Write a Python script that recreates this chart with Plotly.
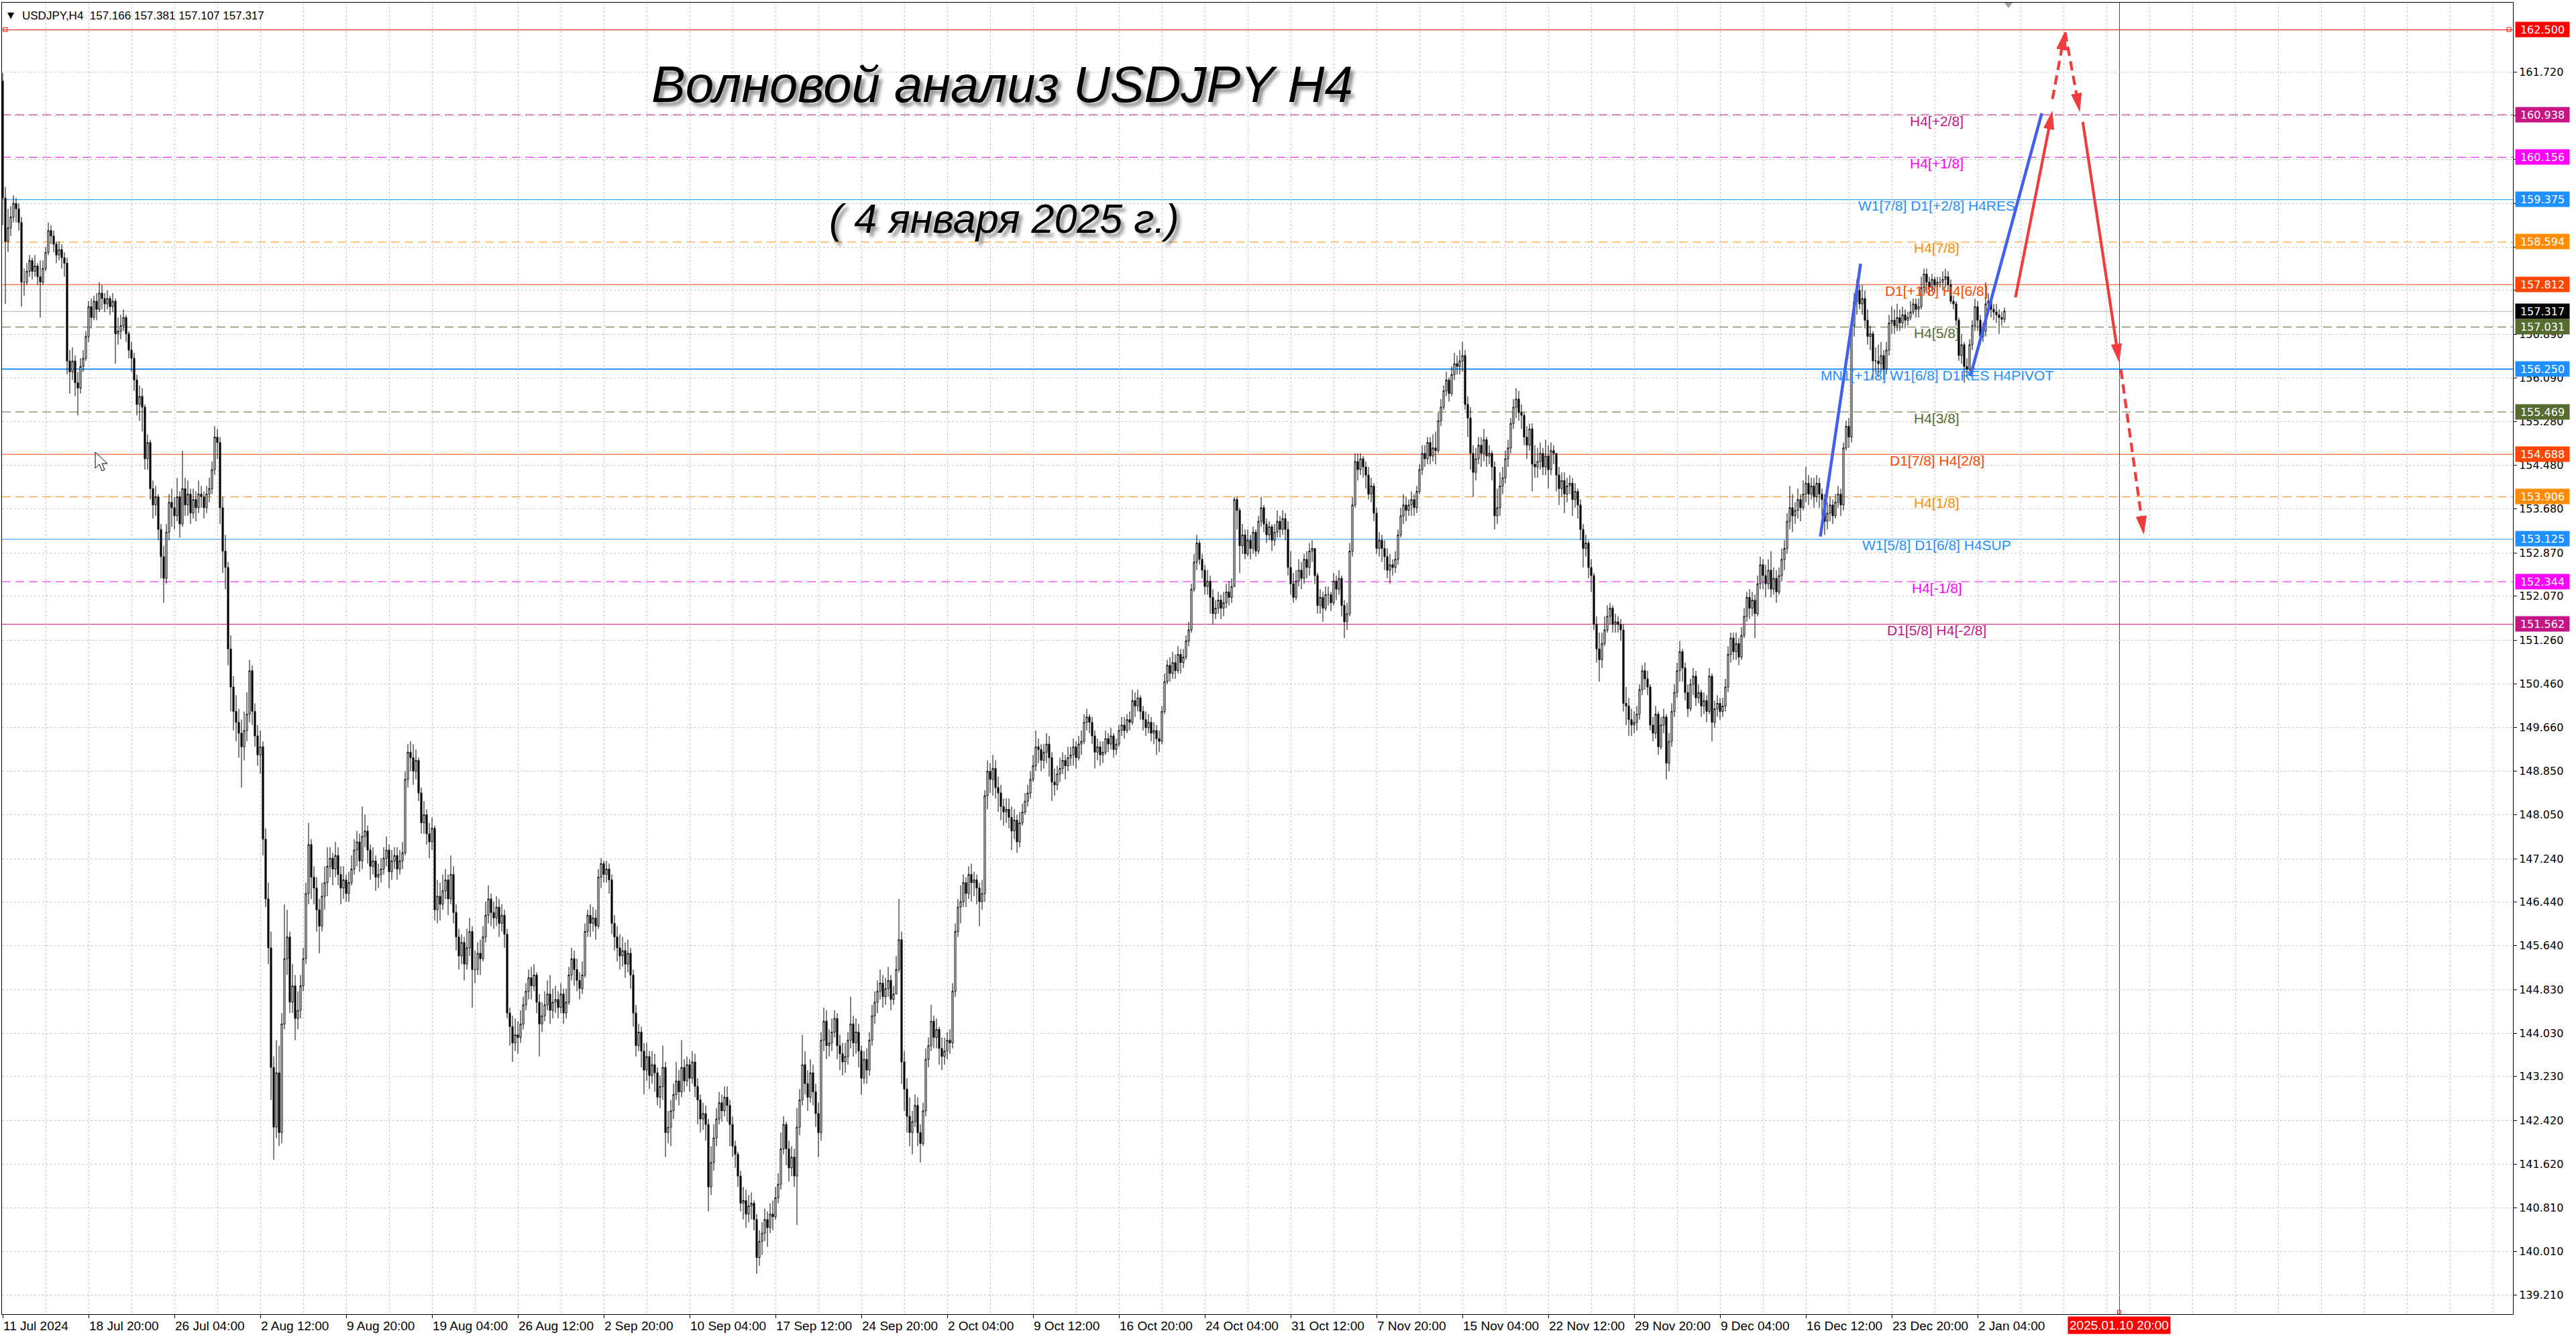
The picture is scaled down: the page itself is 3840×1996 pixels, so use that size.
import math
import plotly.graph_objects as go

# ---------------- data ----------------
first_open = 161.55

close = [
159.40, 158.60, 158.85,
159.05, 159.30, 159.20, 158.95, 157.85, 157.85,
158.05, 158.25, 158.05, 158.15, 157.95, 157.85,
158.10, 158.40, 158.80, 158.70, 158.55, 158.35,
158.45, 158.30, 158.20, 156.40, 156.20, 156.40,
156.00, 155.90, 156.30, 156.45, 156.85, 157.40,
157.20, 157.50, 157.35, 157.65, 157.55, 157.45,
157.55, 157.40, 157.50, 156.90, 156.95, 157.05,
157.20, 156.90, 156.60, 156.45, 156.05, 155.60,
155.75, 155.55, 154.60, 154.90, 154.05, 153.75,
153.90, 153.30, 152.80, 152.40, 153.25, 153.80,
153.70, 153.55, 153.90, 153.40, 154.05, 153.75,
153.95, 153.60, 153.85, 153.70, 153.95, 153.90,
153.70, 153.95, 154.05, 154.40, 155.00, 154.90,
153.70, 152.90, 152.60, 151.10, 150.40, 149.95,
149.75, 149.55, 149.30, 149.60, 149.90, 150.70,
149.95, 149.50, 149.15, 149.30, 147.60, 146.50,
145.60, 143.40, 142.30, 143.30, 142.20, 144.20,
145.40, 145.80, 144.60, 144.90, 144.30, 144.45,
144.90, 145.40, 146.60, 147.50, 146.90, 146.70,
146.30, 146.00, 146.55, 146.80, 147.10, 147.25,
147.05, 147.30, 146.95, 146.70, 146.85, 146.60,
146.80, 147.05, 147.40, 147.55, 147.20, 147.65,
147.75, 147.40, 147.10, 147.20, 146.90, 146.95,
147.05, 147.25, 147.40, 147.00, 147.20, 147.30,
147.05, 147.20, 147.35, 148.70, 149.20, 149.10,
148.85, 149.05, 148.45, 147.90, 148.05, 147.70,
147.55, 147.80, 146.30, 146.55, 146.40, 146.65,
146.85, 146.50, 146.95, 146.25, 145.80, 145.45,
145.70, 145.30, 145.60, 145.90, 145.20, 145.20,
145.50, 145.40, 145.80, 146.20, 146.50, 146.25,
146.15, 146.35, 146.05, 146.20, 145.85, 144.40,
144.15, 143.85, 144.00, 143.95, 144.20, 144.55,
144.80, 145.05, 144.90, 145.10, 144.60, 144.20,
144.35, 144.55, 144.75, 144.45, 144.60, 144.65,
144.50, 144.75, 144.40, 144.60, 145.10, 145.40,
145.20, 145.00, 144.85, 145.10, 145.90, 146.20,
146.05, 146.15, 146.00, 146.90, 147.15, 146.95,
147.05, 146.85, 146.05, 145.80, 145.60, 145.45,
145.55, 145.30, 145.50, 145.10, 144.40, 143.80,
144.05, 143.70, 143.35, 143.60, 143.25, 143.45,
143.30, 142.85, 143.05, 143.40, 142.20, 142.30,
142.60, 142.90, 143.15, 142.95, 143.40, 143.15,
143.45, 143.20, 143.50, 143.05, 142.80, 142.45,
142.55, 142.35, 141.20, 141.65, 142.10, 142.45,
142.75, 142.60, 142.85, 142.70, 142.35, 141.95,
141.80, 141.40, 140.90, 140.95, 140.70, 140.85,
140.90, 140.60, 139.90, 140.20, 140.35, 140.60,
140.45, 140.70, 140.65, 141.00, 141.25, 141.90,
142.35, 141.90, 141.55, 141.75, 141.40, 142.30,
142.80, 143.45, 143.10, 142.85, 143.30, 142.95,
142.55, 142.20, 143.90, 144.25, 143.80, 143.85,
144.05, 144.30, 143.80, 143.65, 143.50, 143.60,
143.90, 144.20, 143.85, 144.05, 143.70, 143.20,
143.55, 143.35, 143.90, 144.35, 144.60, 144.80,
144.95, 144.70, 144.85, 145.00, 144.65, 144.75,
145.20, 145.75, 143.50, 143.00, 142.50, 142.20,
142.40, 142.70, 142.20, 142.00, 142.60, 143.55,
143.80, 144.25, 143.95, 144.10, 143.75, 143.60,
143.70, 143.90, 143.85, 144.80, 145.90, 146.35,
146.45, 146.80, 146.60, 146.95, 146.80, 146.85,
146.70, 146.45, 146.60, 148.40, 148.85, 148.70,
148.90, 148.55, 148.45, 148.20, 148.10, 148.15,
148.00, 147.75, 147.95, 147.55, 147.90, 148.10,
148.30, 148.45, 148.70, 148.95, 149.30, 149.25,
149.05, 149.20, 149.35, 149.10, 148.65, 148.60,
148.80, 148.90, 149.05, 148.95, 149.10, 149.15,
149.30, 149.10, 149.35, 149.40, 149.75, 149.85,
149.75, 149.50, 149.20, 149.30, 149.15, 149.20,
149.45, 149.35, 149.50, 149.25, 149.35, 149.60,
149.70, 149.60, 149.80, 149.75, 150.15, 150.05,
150.20, 149.95, 149.80, 149.65, 149.75, 149.55,
149.60, 149.45, 149.40, 149.95, 150.50, 150.80,
150.65, 150.85, 150.70, 151.00, 150.85, 150.95,
151.25, 151.45, 152.20, 152.70, 153.05, 152.75,
152.55, 152.25, 152.35, 152.05, 151.75, 151.85,
152.00, 151.85, 151.95, 152.15, 152.05, 152.25,
153.85, 153.65, 153.00, 153.20, 152.85, 153.10,
152.95, 153.25, 152.90, 153.45, 153.70, 153.40,
153.20, 153.35, 153.10, 153.25, 153.45, 153.30,
153.50, 153.30, 152.60, 152.30, 152.05, 152.35,
152.55, 152.40, 152.75, 152.60, 152.90, 152.95,
152.45, 151.90, 152.05, 151.85, 152.10, 152.10,
151.95, 152.35, 152.20, 152.40, 151.90, 151.60,
151.75, 152.90, 153.75, 154.55, 154.40, 154.60,
154.45, 154.30, 153.95, 154.10, 153.60, 152.95,
153.10, 152.95, 152.80, 152.55, 152.65, 152.60,
152.75, 153.20, 153.55, 153.75, 153.65, 153.75,
153.85, 153.70, 154.00, 154.40, 154.70, 154.60,
154.90, 154.65, 154.80, 154.75, 155.30, 155.55,
155.85, 156.05, 155.80, 156.15, 156.35, 156.30,
156.40, 156.50, 155.60, 155.35, 154.70, 154.35,
154.60, 154.85, 154.70, 154.95, 154.65, 154.70,
154.45, 153.55, 153.70, 154.10, 154.25, 154.60,
154.80, 155.25, 155.55, 155.70, 155.45, 155.40,
155.00, 154.85, 155.15, 154.50, 154.45, 154.55,
154.70, 154.45, 154.65, 154.40, 154.75, 154.70,
154.30, 154.05, 154.20, 153.95, 154.10, 154.15,
153.85, 154.00, 153.75, 153.30, 152.95, 153.05,
152.60, 152.45, 151.55, 151.10, 150.90, 151.20,
151.45, 151.70, 151.85, 151.55, 151.60, 151.55,
151.45, 150.10, 150.05, 149.80, 149.70, 149.75,
149.90, 150.35, 150.70, 150.55, 150.40, 149.70,
149.55, 149.90, 149.30, 149.70, 149.85, 149.00,
149.40, 149.95, 150.30, 150.70, 151.05, 150.75,
150.30, 150.00, 150.45, 150.60, 150.20, 150.30,
150.05, 150.15, 149.95, 150.60, 149.75, 150.00,
150.10, 149.95, 150.05, 150.40, 151.00, 151.30,
151.05, 151.20, 150.95, 151.35, 151.70, 152.05,
151.85, 152.00, 151.75, 152.30, 152.65, 152.45,
152.30, 152.55, 152.20, 152.40, 152.15, 152.45,
152.75, 152.95, 153.45, 153.70, 153.55, 153.65,
153.85, 153.70, 153.95, 154.15, 153.95, 154.10,
153.90, 154.15, 153.95, 153.85, 153.45, 153.60,
153.75, 153.55, 153.80, 153.95, 153.75, 154.80,
155.20, 155.00, 157.05, 157.50, 157.70, 157.45,
157.55, 157.15, 156.85, 156.90, 156.40, 156.40,
156.35, 156.50, 156.25, 156.60, 157.10, 157.15,
157.05, 157.20, 157.10, 157.25, 157.15, 157.20,
157.30, 157.45, 157.35, 157.40, 157.75, 158.00,
157.85, 157.75, 157.90, 157.80, 157.85, 157.85,
157.90, 157.95, 157.80, 157.50, 157.45, 157.15,
156.50, 156.70, 156.30, 156.25, 156.70, 157.05,
157.40, 157.15, 156.85, 156.95, 157.45, 157.50,
157.35, 157.30, 157.25, 157.20, 157.166, 157.317,
]

high = [
161.70, 159.60, 159.20,
159.25, 159.45, 159.40, 159.30, 159.05, 158.10,
158.20, 158.35, 158.30, 158.35, 158.20, 158.25,
158.25, 158.50, 158.95, 158.90, 158.80, 158.60,
158.60, 158.55, 158.40, 158.30, 156.60, 156.65,
156.50, 156.20, 156.45, 156.60, 156.95, 157.50,
157.55, 157.60, 157.65, 157.85, 157.80, 157.65,
157.70, 157.60, 157.65, 157.55, 157.20, 157.25,
157.35, 157.25, 156.95, 156.75, 156.55, 156.15,
155.95, 155.90, 155.60, 155.05, 154.95, 154.20,
154.10, 153.95, 153.40, 153.00, 153.40, 153.95,
154.05, 153.90, 154.25, 154.00, 154.75, 154.25,
154.20, 154.05, 154.05, 154.00, 154.20, 154.10,
154.00, 154.10, 154.25, 154.55, 155.20, 155.15,
155.00, 153.90, 153.20, 152.70, 151.35, 150.60,
150.25, 150.00, 149.80, 149.95, 150.30, 150.90,
150.80, 150.10, 149.70, 149.60, 149.40, 147.80,
146.80, 145.90, 143.60, 143.90, 143.80, 144.40,
146.40, 146.30, 145.90, 145.30, 145.10, 144.80,
145.10, 145.60, 146.80, 147.90, 147.60, 147.10,
146.90, 146.50, 146.80, 147.10, 147.45, 147.45,
147.35, 147.55, 147.45, 147.10, 147.10, 146.95,
147.00, 147.30, 147.60, 147.75, 147.70, 148.20,
148.05, 147.85, 147.50, 147.45, 147.30, 147.15,
147.25, 147.45, 147.65, 147.50, 147.40, 147.45,
147.45, 147.40, 147.55, 148.85, 149.35, 149.40,
149.35, 149.25, 149.10, 148.55, 148.30, 148.15,
147.90, 148.00, 147.85, 146.85, 146.80, 146.95,
147.05, 146.95, 147.30, 147.10, 146.40, 145.95,
145.85, 145.80, 145.95, 146.15, 146.00, 145.55,
145.70, 145.75, 146.00, 146.45, 146.75, 146.60,
146.45, 146.55, 146.50, 146.40, 146.30, 145.95,
144.50, 144.35, 144.30, 144.25, 144.45, 144.70,
144.95, 145.20, 145.25, 145.30, 145.15, 144.75,
144.60, 144.80, 145.00, 145.10, 144.85, 144.90,
144.80, 144.95, 144.85, 144.85, 145.25, 145.60,
145.55, 145.40, 145.15, 145.35, 146.05, 146.30,
146.40, 146.35, 146.30, 147.05, 147.25, 147.20,
147.20, 147.15, 146.95, 146.20, 146.00, 145.85,
145.80, 145.70, 145.75, 145.60, 145.20, 144.55,
144.20, 144.15, 143.85, 143.85, 143.70, 143.70,
143.65, 143.40, 143.25, 143.80, 143.50, 142.60,
142.80, 143.10, 143.50, 143.35, 143.90, 143.55,
143.60, 143.55, 143.70, 143.65, 143.20, 142.90,
142.75, 142.70, 142.45, 141.95, 142.35, 142.65,
142.95, 142.90, 143.05, 143.05, 142.80, 142.50,
142.05, 141.85, 141.50, 141.20, 141.15, 141.05,
141.10, 140.95, 140.70, 140.40, 140.55, 140.80,
140.75, 140.90, 140.95, 141.20, 141.45, 142.20,
142.50, 142.40, 142.05, 141.95, 141.90, 142.65,
143.00, 144.00, 143.70, 143.35, 143.55, 143.45,
143.10, 142.75, 144.05, 144.50, 144.45, 144.10,
144.30, 144.45, 144.40, 144.00, 143.85, 143.85,
144.05, 144.70, 144.35, 144.30, 144.20, 143.80,
143.70, 143.75, 144.05, 144.55, 144.80, 145.00,
145.20, 145.10, 145.05, 145.25, 145.10, 144.90,
145.45, 146.50, 145.90, 143.70, 143.20, 142.85,
142.60, 142.90, 142.85, 142.35, 142.75, 143.75,
143.95, 144.55, 144.35, 144.30, 144.15, 143.95,
143.95, 144.05, 144.10, 144.95, 146.05, 146.50,
146.75, 146.95, 146.90, 147.10, 147.15, 147.00,
146.95, 146.80, 146.85, 148.50, 149.05, 149.00,
149.15, 149.05, 148.75, 148.60, 148.35, 148.35,
148.35, 148.20, 148.15, 148.05, 148.10, 148.25,
148.45, 148.60, 148.85, 149.15, 149.60, 149.45,
149.35, 149.35, 149.55, 149.50, 149.20, 148.90,
148.95, 149.10, 149.20, 149.15, 149.30, 149.30,
149.45, 149.40, 149.50, 149.60, 149.90, 150.00,
149.90, 149.85, 149.60, 149.45, 149.40, 149.40,
149.60, 149.55, 149.65, 149.55, 149.45, 149.70,
149.85, 149.85, 149.90, 149.95, 150.35, 150.30,
150.35, 150.25, 150.05, 149.95, 149.90, 149.85,
149.75, 149.70, 149.60, 150.05, 150.65, 150.90,
150.95, 151.05, 151.00, 151.15, 151.10, 151.10,
151.35, 151.60, 152.30, 152.85, 153.20, 153.10,
152.85, 152.65, 152.55, 152.45, 152.20, 152.00,
152.15, 152.10, 152.15, 152.30, 152.35, 152.40,
153.90, 153.90, 153.70, 153.40, 153.30, 153.30,
153.20, 153.35, 153.30, 153.55, 153.90, 153.75,
153.50, 153.45, 153.40, 153.40, 153.65, 153.55,
153.65, 153.60, 153.45, 152.90, 152.50, 152.55,
152.75, 152.70, 152.85, 152.90, 153.05, 153.10,
152.65, 152.50, 152.20, 152.15, 152.25, 152.25,
152.15, 152.50, 152.45, 152.55, 152.45, 152.00,
151.95, 153.05, 153.90, 154.70, 154.70, 154.70,
154.65, 154.55, 154.45, 154.25, 154.15, 153.70,
153.25, 153.20, 153.10, 152.95, 152.85, 152.75,
152.90, 153.30, 153.70, 153.95, 153.90, 153.85,
154.00, 153.95, 154.10, 154.50, 154.85, 154.85,
155.00, 155.00, 155.05, 155.10, 155.45, 155.70,
155.95, 156.20, 156.10, 156.30, 156.55, 156.50,
156.60, 156.75, 156.60, 155.75, 155.55, 154.85,
154.80, 155.00, 155.00, 155.15, 155.00, 154.85,
154.75, 154.55, 154.05, 154.35, 154.45, 154.75,
154.95, 155.35, 155.70, 155.90, 155.85, 155.60,
155.45, 155.20, 155.25, 155.25, 154.85, 154.80,
154.90, 154.80, 154.95, 154.85, 154.90, 154.85,
154.55, 154.45, 154.35, 154.35, 154.25, 154.30,
154.25, 154.15, 154.05, 153.85, 153.40, 153.20,
153.10, 152.75, 152.50, 151.70, 151.40, 151.40,
151.70, 151.90, 151.95, 151.90, 151.75, 151.70,
151.65, 151.55, 150.40, 150.20, 150.00, 149.95,
150.05, 150.45, 150.80, 150.85, 150.70, 150.45,
149.85, 150.05, 149.95, 149.85, 150.00, 149.90,
149.55, 150.10, 150.45, 150.85, 151.25, 151.10,
150.85, 150.45, 150.55, 150.75, 150.70, 150.45,
150.35, 150.30, 150.25, 150.75, 150.65, 150.15,
150.25, 150.20, 150.20, 150.55, 151.15, 151.40,
151.40, 151.40, 151.30, 151.50, 151.85, 152.15,
152.20, 152.15, 152.10, 152.45, 152.80, 152.75,
152.65, 152.75, 152.90, 152.60, 152.55, 152.60,
152.95, 153.10, 153.60, 154.10, 153.95, 153.80,
154.05, 153.95, 154.20, 154.45, 154.30, 154.25,
154.25, 154.30, 154.25, 154.05, 153.95, 153.80,
153.90, 153.85, 153.95, 154.10, 154.05, 154.90,
155.30, 155.35, 157.15, 157.65, 157.90, 157.80,
157.80, 157.70, 157.35, 157.05, 156.95, 156.65,
156.70, 156.75, 156.60, 156.75, 157.25, 157.40,
157.35, 157.45, 157.35, 157.40, 157.35, 157.30,
157.50, 157.55, 157.55, 157.55, 157.95, 158.10,
158.10, 157.95, 158.00, 157.95, 157.95, 157.95,
158.05, 158.10, 158.05, 157.90, 157.60, 157.50,
157.20, 156.90, 156.75, 156.45, 156.80, 157.15,
157.55, 157.50, 157.25, 157.10, 157.85, 157.65,
157.55, 157.45, 157.45, 157.35, 157.30, 157.381,
]

low = [
158.90, 157.45, 158.40,
158.70, 158.95, 158.95, 158.80, 157.40, 157.60,
157.80, 157.95, 157.90, 157.95, 157.80, 157.20,
157.80, 158.05, 158.35, 158.55, 158.40, 158.20,
158.25, 158.10, 157.95, 156.15, 155.80, 156.05,
155.75, 155.40, 155.80, 156.20, 156.40, 156.75,
157.00, 157.15, 157.15, 157.30, 157.35, 157.30,
157.35, 157.25, 157.30, 156.35, 156.70, 156.80,
156.95, 156.75, 156.45, 156.20, 155.85, 155.40,
155.30, 155.10, 154.40, 154.40, 153.85, 153.50,
153.55, 153.10, 152.40, 151.95, 152.30, 153.10,
153.35, 153.30, 153.45, 153.15, 153.35, 153.55,
153.55, 153.40, 153.50, 153.45, 153.60, 153.70,
153.50, 153.60, 153.80, 153.95, 154.30, 154.60,
153.40, 152.50, 152.20, 150.80, 149.95, 149.60,
149.40, 149.10, 148.55, 149.05, 149.40, 149.75,
149.70, 149.30, 148.95, 148.80, 147.30, 146.35,
145.30, 142.80, 141.70, 142.10, 141.95, 142.00,
144.10, 145.10, 144.40, 144.40, 143.90, 144.10,
144.30, 144.80, 145.30, 146.40, 146.50, 146.40,
145.90, 145.50, 145.90, 146.30, 146.55, 146.90,
146.75, 146.90, 146.75, 146.40, 146.50, 146.45,
146.45, 146.75, 146.95, 147.10, 147.00, 147.05,
147.45, 147.15, 146.85, 146.95, 146.65, 146.70,
146.80, 146.95, 147.10, 146.70, 146.85, 147.05,
146.85, 146.95, 147.05, 147.30, 148.55, 148.85,
148.60, 148.70, 148.30, 147.70, 147.70, 147.50,
147.25, 147.40, 146.10, 146.05, 146.10, 146.30,
146.50, 146.20, 146.40, 146.05, 145.55, 145.20,
145.30, 145.00, 145.20, 145.45, 144.50, 144.95,
145.10, 145.10, 145.35, 145.70, 146.05, 146.00,
145.95, 146.00, 145.80, 145.90, 145.60, 144.30,
143.80, 143.50, 143.70, 143.65, 143.85, 144.10,
144.45, 144.65, 144.65, 144.80, 144.40, 143.60,
144.05, 144.25, 144.45, 144.20, 144.30, 144.40,
144.30, 144.40, 144.20, 144.30, 144.55, 145.00,
144.90, 144.80, 144.65, 144.75, 145.05, 145.80,
145.80, 145.90, 145.75, 145.95, 146.70, 146.80,
146.80, 146.60, 145.85, 145.55, 145.35, 145.20,
145.25, 145.05, 145.15, 144.85, 144.15, 143.60,
143.70, 143.40, 142.90, 143.15, 143.00, 143.10,
142.95, 142.70, 142.65, 142.80, 141.75, 142.00,
141.95, 142.45, 142.80, 142.70, 142.85, 142.95,
143.05, 142.95, 143.10, 142.85, 142.35, 142.20,
142.25, 142.05, 140.75, 141.05, 141.50, 141.95,
142.35, 142.40, 142.50, 142.40, 141.95, 141.75,
141.55, 141.20, 140.75, 140.60, 140.45, 140.55,
140.60, 140.40, 139.60, 139.75, 139.95, 140.20,
140.10, 140.35, 140.40, 140.60, 140.90, 141.15,
141.80, 141.60, 141.30, 141.40, 141.20, 140.50,
142.15, 142.70, 142.90, 142.60, 142.75, 142.70,
142.30, 141.75, 142.05, 143.70, 143.55, 143.60,
143.70, 143.95, 143.55, 143.35, 143.25, 143.30,
143.45, 143.75, 143.60, 143.65, 143.40, 142.90,
143.10, 143.10, 143.25, 143.80, 144.20, 144.40,
144.65, 144.50, 144.55, 144.70, 144.45, 144.55,
144.80, 145.15, 143.10, 142.60, 142.20, 141.95,
141.80, 142.30, 141.95, 141.65, 141.95, 142.50,
143.40, 143.70, 143.75, 143.75, 143.45, 143.35,
143.45, 143.55, 143.65, 143.75, 144.70, 145.80,
146.05, 146.35, 146.35, 146.50, 146.45, 146.55,
146.40, 146.00, 146.30, 146.45, 148.15, 148.45,
148.40, 148.35, 148.10, 147.95, 147.85, 147.90,
147.80, 147.40, 147.60, 147.35, 147.45, 147.85,
148.05, 148.20, 148.35, 148.65, 148.85, 149.00,
148.85, 148.90, 149.00, 148.75, 148.30, 148.40,
148.50, 148.65, 148.80, 148.70, 148.85, 148.95,
148.95, 148.90, 149.05, 149.15, 149.35, 149.60,
149.55, 149.35, 148.90, 149.05, 148.95, 149.00,
149.15, 149.20, 149.25, 149.10, 149.15, 149.30,
149.50, 149.45, 149.55, 149.60, 149.70, 149.85,
149.95, 149.80, 149.60, 149.50, 149.55, 149.40,
149.35, 149.15, 149.20, 149.35, 149.90, 150.45,
150.50, 150.55, 150.55, 150.65, 150.65, 150.75,
150.90, 151.15, 151.40, 152.15, 152.55, 152.65,
152.40, 152.10, 152.10, 151.75, 151.55, 151.65,
151.75, 151.65, 151.70, 151.85, 151.90, 151.95,
152.70, 153.30, 152.50, 152.85, 152.75, 152.80,
152.75, 152.85, 152.80, 152.85, 153.35, 153.25,
153.05, 153.10, 152.90, 153.00, 153.15, 153.15,
153.20, 153.10, 152.45, 152.10, 151.95, 152.00,
152.25, 152.20, 152.30, 152.40, 152.45, 152.70,
152.30, 151.75, 151.75, 151.60, 151.80, 151.90,
151.80, 151.90, 152.00, 152.10, 151.70, 151.30,
151.45, 151.70, 152.80, 153.70, 154.20, 154.30,
154.25, 154.05, 153.85, 153.80, 153.45, 152.85,
152.80, 152.70, 152.55, 152.40, 152.30, 152.45,
152.50, 152.65, 153.15, 153.40, 153.45, 153.55,
153.55, 153.55, 153.60, 153.95, 154.30, 154.45,
154.50, 154.50, 154.55, 154.50, 154.70, 155.20,
155.50, 155.75, 155.65, 155.75, 156.05, 156.15,
156.15, 156.20, 155.50, 155.00, 154.40, 153.90,
154.20, 154.50, 154.45, 154.55, 154.45, 154.50,
154.20, 153.30, 153.40, 153.55, 153.95, 154.15,
154.45, 154.70, 155.15, 155.35, 155.30, 155.15,
154.85, 154.60, 154.75, 154.00, 154.25, 154.25,
154.40, 154.30, 154.30, 154.05, 154.30, 154.50,
154.00, 153.75, 153.90, 153.60, 153.80, 153.95,
153.55, 153.70, 153.50, 153.10, 152.60, 152.80,
152.40, 152.15, 151.45, 150.85, 150.50, 150.75,
151.15, 151.40, 151.55, 151.40, 151.40, 151.40,
151.25, 149.95, 149.70, 149.50, 149.50, 149.55,
149.60, 149.80, 150.25, 150.35, 150.25, 149.60,
149.40, 149.45, 149.15, 149.25, 149.55, 148.70,
148.85, 149.30, 149.85, 150.20, 150.50, 150.50,
150.15, 149.85, 149.95, 150.25, 150.05, 150.10,
149.85, 149.90, 149.75, 149.90, 149.40, 149.65,
149.85, 149.80, 149.85, 149.95, 150.30, 150.85,
150.90, 150.90, 150.80, 150.90, 151.30, 151.60,
151.65, 151.70, 151.30, 151.70, 152.20, 152.20,
152.05, 152.20, 152.05, 152.10, 151.95, 152.10,
152.35, 152.55, 152.85, 153.30, 153.25, 153.40,
153.50, 153.45, 153.65, 153.80, 153.75, 153.85,
153.70, 153.80, 153.70, 153.55, 153.20, 153.30,
153.45, 153.40, 153.50, 153.70, 153.55, 153.65,
154.75, 154.80, 154.90, 156.85, 157.25, 157.35,
157.25, 157.00, 156.70, 156.60, 156.05, 156.20,
156.10, 156.20, 156.05, 156.15, 156.50, 156.90,
156.90, 156.95, 156.95, 157.00, 157.00, 157.05,
157.15, 157.25, 157.20, 157.20, 157.35, 157.65,
157.65, 157.60, 157.70, 157.65, 157.70, 157.75,
157.70, 157.75, 157.70, 157.45, 157.35, 157.05,
156.40, 156.35, 156.00, 156.10, 156.20, 156.60,
156.95, 156.95, 156.70, 156.75, 156.85, 157.30,
157.20, 157.15, 157.10, 156.90, 157.05, 157.107,
]

x_tick_text = ["11 Jul 2024", "18 Jul 20:00", "26 Jul 04:00", "2 Aug 12:00", "9 Aug 20:00",
               "19 Aug 04:00", "26 Aug 12:00", "2 Sep 20:00", "10 Sep 04:00", "17 Sep 12:00",
               "24 Sep 20:00", "2 Oct 04:00", "9 Oct 12:00", "16 Oct 20:00", "24 Oct 04:00",
               "31 Oct 12:00", "7 Nov 20:00", "15 Nov 04:00", "22 Nov 12:00", "29 Nov 20:00",
               "9 Dec 04:00", "16 Dec 12:00", "23 Dec 20:00", "2 Jan 04:00"]

y_tick_text = ["139.210", "140.010", "140.810", "141.620", "142.420", "143.230", "144.030",
               "144.830", "145.640", "146.440", "147.240", "148.050", "148.850", "149.660",
               "150.460", "151.260", "152.070", "152.870", "153.680", "154.480", "155.280",
               "156.090", "156.890", "157.700", "158.500", "159.300", "160.110", "160.910",
               "161.720"]
# tick labels that the price boxes cover completely in the reference
y_tick_covered = ["157.700", "158.500", "159.300", "160.110", "160.910"]

level_prices = [162.500, 160.938, 160.156, 159.375, 158.594, 157.812, 157.031, 156.250,
                155.469, 154.688, 153.906, 153.125, 152.344, 151.562]
level_names = ["", "H4[+2/8]", "H4[+1/8]", "W1[7/8] D1[+2/8] H4RES", "H4[7/8]",
               "D1[+1/8] H4[6/8]", "H4[5/8]", "MN1[+1/8] W1[6/8] D1RES H4PIVOT", "H4[3/8]",
               "D1[7/8] H4[2/8]", "H4[1/8]", "W1[5/8] D1[6/8] H4SUP", "H4[-1/8]",
               "D1[5/8] H4[-2/8]"]
level_colors = ["#ff0000", "#c71585", "#ff00ff", "#1e90ff", "#ff8c00", "#ff4500", "#556b2f",
                "#1e90ff", "#556b2f", "#ff4500", "#ff8c00", "#1e90ff", "#ff00ff", "#c71585"]
level_dash = ["solid", "dash", "dash", "solid", "dash", "solid", "dash", "solid", "dash",
              "solid", "dash", "solid", "dash", "solid"]

last_price = 157.317
header_text = "USDJPY,H4\u00a0\u00a0157.166 157.381 157.107 157.317"
future_bar = 788.75
future_label = "2025.01.10 20:00"

title_text = "Волновой анализ USDJPY H4"
subtitle_text = "( 4 января 2025 г.)"

# wave drawing (bar index, price)
blue_x0 = [677.4, 733.3]
blue_y0 = [153.17, 156.12]
blue_x1 = [692.4, 759.9]
blue_y1 = [158.19, 160.96]

red_x0 = [750.1, 763.9, 768.6, 775.2, 789.4]
red_y0 = [157.57, 161.22, 162.45, 160.80, 156.24]
red_x1 = [763.8, 768.5, 774.0, 788.7, 797.9]
red_y1 = [160.99, 162.45, 161.00, 156.39, 153.22]
red_style = ["solid", "dash", "dash", "solid", "dash"]

# ---------------- build ----------------
n = min(len(close), len(high), len(low))
xs = list(range(n))
opens = [first_open] + close[:n - 1]
hi = [max(high[i], opens[i], close[i]) for i in range(n)]
lo = [min(low[i], opens[i], close[i]) for i in range(n)]

W, H = 3840, 1996
ML, MR, MT, MB = 3, 94, 4, 37
plot_w = W - ML - MR
plot_h = H - MT - MB
PX_X = 4.0
x0r = -0.25
x1r = x0r + plot_w / PX_X
PX_Y = 81.0
y_top = 162.5 + (44 - MT) / PX_Y
y_bot = y_top - plot_h / PX_Y
HALF_Y = 0.5 / PX_Y   # half a pixel, keeps 1px lines crisp
HALF_X = 0.5 / PX_X

fig = go.Figure()

fig.add_trace(go.Candlestick(
    x=xs, open=opens, high=hi, low=lo, close=close[:n],
    increasing=dict(line=dict(color="black", width=1), fillcolor="white"),
    decreasing=dict(line=dict(color="black", width=1), fillcolor="black"),
    whiskerwidth=0, showlegend=False, hoverinfo="skip"))

shapes = []
annotations = []

# level lines
for p, c, d in zip(level_prices, level_colors, level_dash):
    thick = abs(p - 156.25) < 1e-6
    yy = p if thick else p - HALF_Y
    shapes.append(dict(type="line", xref="paper", x0=0, x1=1, yref="y", y0=yy, y1=yy,
                       line=dict(color=c, width=(2 if thick else 1),
                                 dash=("13px,7px" if d == "dash" else "solid")),
                       layer="below"))
# current price line
shapes.append(dict(type="line", xref="paper", x0=0, x1=1, yref="y",
                   y0=last_price - HALF_Y, y1=last_price - HALF_Y,
                   line=dict(color="#b4b4b4", width=1), layer="below"))
# future time line
shapes.append(dict(type="line", xref="x", x0=future_bar + HALF_X, x1=future_bar + HALF_X,
                   yref="paper", y0=0, y1=1,
                   line=dict(color="#ff0000", width=1), layer="below"))

# level labels on chart
for p, c, name in zip(level_prices, level_colors, level_names):
    if name:
        annotations.append(dict(x=720.75, y=p, xref="x", yref="y", text=name, showarrow=False,
                                xanchor="center", yanchor="top", yshift=4,
                                font=dict(family="Liberation Sans, Arial, sans-serif", size=21, color=c)))

# price boxes on right axis
box_items = list(zip(level_prices, level_colors))
box_items.insert(6, (last_price, "#000000"))
for p, c in box_items:
    annotations.append(dict(x=1, y=p, xref="paper", yref="y", text=f"{p:.3f}", showarrow=False,
                            xanchor="left", yanchor="middle", xshift=3,
                            bgcolor=c, width=80, height=22, borderpad=0, align="center",
                            font=dict(family="DejaVu Sans, Verdana, sans-serif", size=16, color="white")))

# future time label on x axis
annotations.append(dict(x=future_bar, y=0, xref="x", yref="paper", text=future_label, showarrow=False,
                        xanchor="center", yanchor="top", yshift=-3, bgcolor="#ff0000", borderpad=2,
                        font=dict(family="Liberation Sans Narrow, Liberation Sans, Arial", size=19, color="white")))

# header
annotations.append(dict(x=0, y=1, xref="paper", yref="paper", text="\u25bc", showarrow=False,
                        xanchor="left", yanchor="middle", xshift=6, yshift=-18,
                        font=dict(family="DejaVu Sans", size=13, color="black")))
annotations.append(dict(x=0, y=1, xref="paper", yref="paper", text=header_text, showarrow=False,
                        xanchor="left", yanchor="middle", xshift=28, yshift=-19,
                        font=dict(family="Liberation Sans, Arial", size=17, color="black")))

# titles
annotations.append(dict(x=(1494 - ML) / plot_w, y=(H - MB - 125) / plot_h, xref="paper", yref="paper",
                        text=title_text, showarrow=False, xanchor="center", yanchor="middle",
                        font=dict(family="Liberation Sans, Arial", size=76, color="black", style="italic",
                                  shadow="5px 6px 5px rgba(0,0,0,0.45)")))
annotations.append(dict(x=(1496 - ML) / plot_w, y=(H - MB - 326) / plot_h, xref="paper", yref="paper",
                        text=subtitle_text, showarrow=False, xanchor="center", yanchor="middle",
                        font=dict(family="Liberation Sans, Arial", size=61, color="black", style="italic",
                                  shadow="5px 6px 5px rgba(0,0,0,0.45)")))

# blue wave lines
for a, b, c2, d2 in zip(blue_x0, blue_y0, blue_x1, blue_y1):
    fig.add_trace(go.Scatter(x=[a, c2], y=[b, d2], mode="lines",
                             line=dict(color="#4160f0", width=4.5), showlegend=False, hoverinfo="skip"))


def arrow_head(xa, ya, xb, yb, length=26.0, width=15.0):
    dx = (xb - xa) * PX_X
    dy = (yb - ya) * PX_Y
    L = math.hypot(dx, dy)
    ux, uy = dx / L, dy / L
    nx, ny = -uy, ux
    tx, ty = xb * PX_X, yb * PX_Y
    bx, by = tx - ux * length, ty - uy * length
    p1 = (bx + nx * width / 2, by + ny * width / 2)
    p2 = (bx - nx * width / 2, by - ny * width / 2)
    path = "M {:.4f},{:.4f} L {:.4f},{:.4f} L {:.4f},{:.4f} Z".format(
        xb, yb, p1[0] / PX_X, p1[1] / PX_Y, p2[0] / PX_X, p2[1] / PX_Y)
    return path, bx / PX_X, by / PX_Y


for a, b, c2, d2, st in zip(red_x0, red_y0, red_x1, red_y1, red_style):
    path, ex, ey = arrow_head(a, b, c2, d2)
    fig.add_trace(go.Scatter(x=[a, ex], y=[b, ey], mode="lines",
                             line=dict(color="#f03c3c", width=4.2,
                                       dash=("solid" if st == "solid" else "14px,8px")),
                             showlegend=False, hoverinfo="skip"))
    shapes.append(dict(type="path", path=path, xref="x", yref="y",
                       fillcolor="#f03c3c", line=dict(color="#f03c3c", width=1), layer="above"))

# mouse cursor left in the screenshot (pixel outline, tip at 142,674)
cursor_px = [(0, 0), (0, 24), (6, 18), (10, 28), (14, 26), (10, 17), (18, 17)]
tipx, tipy = 142, 674
pts = [(x0r + (tipx + cx - ML) / PX_X, y_top - (tipy + cy - MT) / PX_Y) for cx, cy in cursor_px]
cpath = "M " + " L ".join("{:.4f},{:.4f}".format(px, py) for px, py in pts) + " Z"
shapes.append(dict(type="path", path=cpath, xref="x", yref="y", fillcolor="white",
                   line=dict(color="black", width=1), layer="above"))

# small markers (line anchors, chart shift)
fig.add_trace(go.Scatter(x=[1.0, x1r - 1.5], y=[162.5, 162.5], mode="markers",
                         marker=dict(symbol="square-open", size=6, color="#ff0000", line=dict(width=1)),
                         showlegend=False, hoverinfo="skip", cliponaxis=False))
fig.add_trace(go.Scatter(x=[future_bar], y=[y_bot + 0.04], mode="markers",
                         marker=dict(symbol="square-open", size=5, color="#ff0000", line=dict(width=1)),
                         showlegend=False, hoverinfo="skip", cliponaxis=False))
fig.add_trace(go.Scatter(x=[747.5], y=[y_top - 0.03], mode="markers",
                         marker=dict(symbol="triangle-down", size=11, color="#a0a0a0"),
                         showlegend=False, hoverinfo="skip", cliponaxis=False))

y_tick_vals = [float(t) for t in y_tick_text]
y_tick_show = ["" if t in y_tick_covered else t for t in y_tick_text]
x_tick_vals = [32 * k for k in range(len(x_tick_text))]

fig.update_layout(
    width=W, height=H,
    margin=dict(l=ML, r=MR, t=MT, b=MB, pad=0),
    paper_bgcolor="white", plot_bgcolor="white",
    showlegend=False, boxgap=0.25,
    shapes=shapes, annotations=annotations,
    xaxis=dict(range=[x0r, x1r], rangeslider=dict(visible=False),
               tickmode="array", tickvals=x_tick_vals, ticktext=x_tick_text,
               ticklabelposition="outside right",
               ticks="outside", ticklen=5, tickcolor="black",
               showgrid=True, gridcolor="#c8c8c8", griddash="3px,3px", gridwidth=1,
               minor=dict(tickmode="linear", tick0=0, dtick=16, showgrid=True,
                          gridcolor="#c8c8c8", griddash="3px,3px", ticks=""),
               showline=True, linecolor="black", linewidth=1, mirror=True,
               zeroline=False,
               tickfont=dict(family="Liberation Sans Narrow, Liberation Sans, Arial", size=19, color="black")),
    yaxis=dict(range=[y_bot, y_top], side="right",
               tickmode="array", tickvals=y_tick_vals, ticktext=y_tick_show,
               ticks="outside", ticklen=5, tickcolor="black",
               showgrid=True, gridcolor="#c8c8c8", griddash="3px,3px", gridwidth=1,
               showline=True, linecolor="black", linewidth=1, mirror=True,
               zeroline=False,
               tickfont=dict(family="DejaVu Sans, Verdana, sans-serif", size=16, color="black")),
)

fig.write_html("out.html", config={"displayModeBar": False},
               post_script="document.body.style.margin='0';document.body.style.overflow='hidden';")
